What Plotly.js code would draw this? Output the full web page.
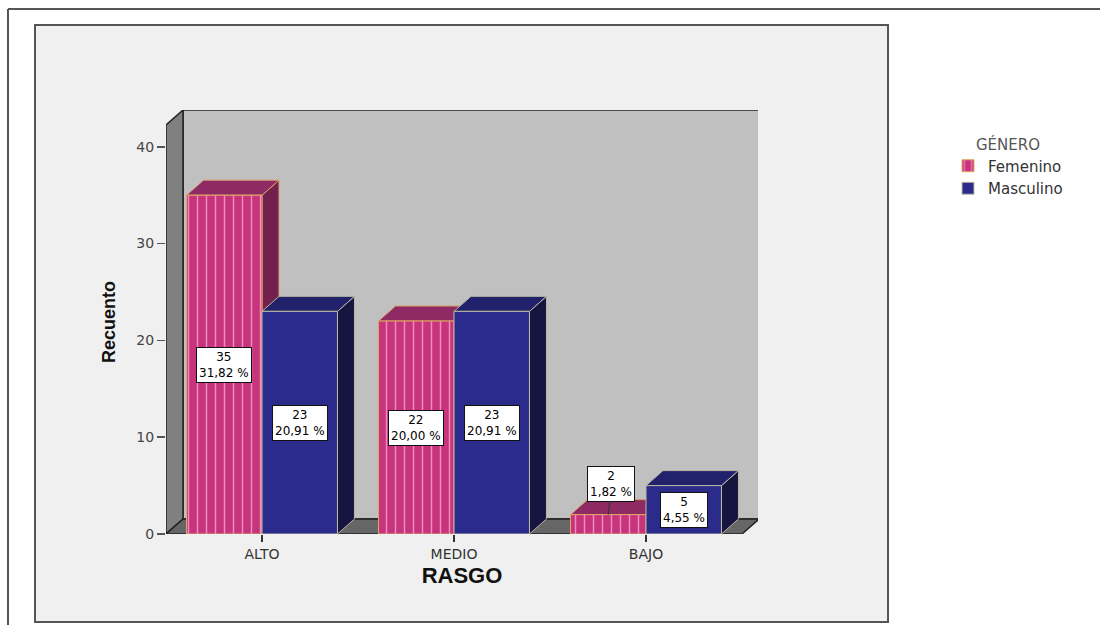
<!DOCTYPE html>
<html>
<head>
<meta charset="utf-8">
<script src="https://cdn.plot.ly/plotly-3.0.1.min.js"></script>
<style>
  html, body { margin: 0; padding: 0; background: #ffffff; }
  #chart { width: 1100px; height: 625px; }
</style>
</head>
<body>
<div id="chart"></div>
<script>
// ---- data ----
const categories = ['ALTO', 'MEDIO', 'BAJO'];
const femenino = [35, 22, 2];
const masculino = [23, 23, 5];
const femeninoPct = ['31,82 %', '20,00 %', '1,82 %'];
const masculinoPct = ['20,91 %', '20,91 %', '4,55 %'];
const yTicks = [0, 10, 20, 30, 40];
const seriesNames = ['Femenino', 'Masculino'];
const legendTitle = 'GÉNERO';
const xTitle = 'RASGO';
const yTitle = 'Recuento';

// ---- layout geometry ----
const W = 1100, H = 625;
const M = { l: 166, r: 342, t: 110, b: 91 };
const plotW = W - M.l - M.r, plotH = H - M.t - M.b;
const XPX = 192;                       // pixels per category
const xRange = [-0.5, -0.5 + plotW / XPX];
const YMAX = 43.8;
const YPX = plotH / YMAX;
const DX = 17 / XPX, DY = 15 / YPX;    // 3D depth offset in data units
const FRONT_TOP = YMAX - DY;
const X_FRONT_RIGHT = 2.5;
const BARGAP = 0.214;
const BW = (1 - BARGAP) / 2;

const px2paperX = p => (p - M.l) / plotW;
const px2paperY = p => (H - M.b - p) / plotH;

const P = pts => 'M' + pts.map(p => p[0] + ',' + p[1]).join(' L') + ' Z';

const shapes = [];
// outer frame lines
shapes.push({ type: 'line', xref: 'paper', yref: 'paper',
  x0: px2paperX(8), x1: px2paperX(1100), y0: px2paperY(9), y1: px2paperY(9),
  line: { color: '#555', width: 2 }, layer: 'below' });
shapes.push({ type: 'line', xref: 'paper', yref: 'paper',
  x0: px2paperX(8), x1: px2paperX(8), y0: px2paperY(9), y1: px2paperY(625),
  line: { color: '#555', width: 2 }, layer: 'below' });
// grey panel
shapes.push({ type: 'rect', xref: 'paper', yref: 'paper',
  x0: px2paperX(35), x1: px2paperX(888), y0: px2paperY(622), y1: px2paperY(25),
  fillcolor: '#f0f0f0', line: { color: '#555', width: 2 }, layer: 'below' });

// back wall
shapes.push({ type: 'path', xref: 'x', yref: 'y', layer: 'below',
  path: P([[-0.5 + DX, DY], [X_FRONT_RIGHT + DX, DY], [X_FRONT_RIGHT + DX, FRONT_TOP + DY], [-0.5 + DX, FRONT_TOP + DY]]),
  fillcolor: '#c0c0c0', line: { color: '#222', width: 1.5 } });
// left wall
shapes.push({ type: 'path', xref: 'x', yref: 'y', layer: 'below',
  path: P([[-0.5, 0], [-0.5, FRONT_TOP], [-0.5 + DX, FRONT_TOP + DY], [-0.5 + DX, DY]]),
  fillcolor: '#808080', line: { color: '#222', width: 1.5 } });
// floor
shapes.push({ type: 'path', xref: 'x', yref: 'y', layer: 'below',
  path: P([[-0.5, 0], [X_FRONT_RIGHT, 0], [X_FRONT_RIGHT + DX, DY], [-0.5 + DX, DY]]),
  fillcolor: '#666666', line: { color: '#222', width: 1.5 } });

function addFaces(values, offset, topColor, sideColor, edge) {
  values.forEach((v, i) => {
    const a = i + offset, b = a + BW;
    shapes.push({ type: 'path', xref: 'x', yref: 'y', layer: 'below',
      path: P([[b, 0], [b, v], [b + DX, v + DY], [b + DX, DY]]),
      fillcolor: sideColor, line: { color: edge, width: 1 } });
    shapes.push({ type: 'path', xref: 'x', yref: 'y', layer: 'below',
      path: P([[a, v], [b, v], [b + DX, v + DY], [a + DX, v + DY]]),
      fillcolor: topColor, line: { color: edge, width: 1 } });
  });
}
addFaces(femenino, -BW, '#8e2a64', '#74204f', '#d9a066');
addFaces(masculino, 0, '#22226c', '#15153f', '#b8b8a0');

// value labels
const annotations = [];
const labelFont = { family: 'DejaVu Sans, Arial, sans-serif', size: 12, color: '#000' };
function addLabels(values, pcts, offset) {
  values.forEach((v, i) => {
    const small = v < 4 && offset < 0;
    const ann = {
      x: i + offset + BW / 2, y: small ? v : v / 2, xref: 'x', yref: 'y',
      text: v + '<br>' + pcts[i], font: labelFont,
      bgcolor: '#ffffff', bordercolor: '#111', borderwidth: 1, borderpad: 2,
      align: 'center', showarrow: false
    };
    if (small) {
      Object.assign(ann, { showarrow: true, arrowhead: 0, arrowwidth: 1, arrowcolor: '#333', ax: 3, ay: -31 });
    }
    annotations.push(ann);
  });
}
addLabels(femenino, femeninoPct, -BW);
addLabels(masculino, masculinoPct, 0);

const traces = [
  { type: 'bar', name: seriesNames[0], x: categories, y: femenino,
    marker: { color: '#c8347c', line: { color: '#e0a860', width: 1 },
      pattern: { shape: '|', fillmode: 'replace', bgcolor: '#c8347c', fgcolor: '#ec8cbf', size: 9, solidity: 0.16 } },
    hoverinfo: 'skip' },
  { type: 'bar', name: seriesNames[1], x: categories, y: masculino,
    marker: { color: '#2b2b8c', line: { color: '#bdbda0', width: 1 } },
    hoverinfo: 'skip' }
];

const layout = {
  width: W, height: H,
  margin: M,
  paper_bgcolor: '#ffffff',
  plot_bgcolor: 'rgba(0,0,0,0)',
  barmode: 'group', bargap: BARGAP, bargroupgap: 0,
  font: { family: 'DejaVu Sans, Arial, sans-serif', color: '#333' },
  xaxis: {
    type: 'category', range: xRange, fixedrange: true,
    showgrid: false, zeroline: false, showline: false,
    ticks: 'outside', ticklen: 7, tickcolor: '#333', tickwidth: 1.5,
    tickfont: { size: 14, color: '#333' },
    title: { text: xTitle, standoff: 6,
      font: { family: 'Liberation Sans, Arial, sans-serif', size: 22, color: '#111', weight: 'bold' } }
  },
  yaxis: {
    range: [0, YMAX], fixedrange: true,
    tickvals: yTicks, ticktext: yTicks.map(String),
    showgrid: false, zeroline: false, showline: false,
    ticks: 'outside', ticklen: 8, tickcolor: '#555', tickwidth: 1.5,
    tickfont: { size: 14, color: '#444' },
    title: { text: yTitle, standoff: 16,
      font: { family: 'Liberation Sans, Arial, sans-serif', size: 18, color: '#111', weight: 'bold' } }
  },
  legend: {
    xref: 'container', yref: 'container',
    x: 948 / W, y: 1 - 130 / H, xanchor: 'left', yanchor: 'top',
    bgcolor: 'rgba(0,0,0,0)',
    font: { size: 15, color: '#333' },
    title: { text: legendTitle, side: 'top center', font: { size: 15, color: '#555' } },
    tracegroupgap: 0
  },
  shapes: shapes,
  annotations: annotations,
  showlegend: true
};

Plotly.newPlot('chart', traces, layout, { displayModeBar: false, staticPlot: true });
</script>
</body>
</html>
